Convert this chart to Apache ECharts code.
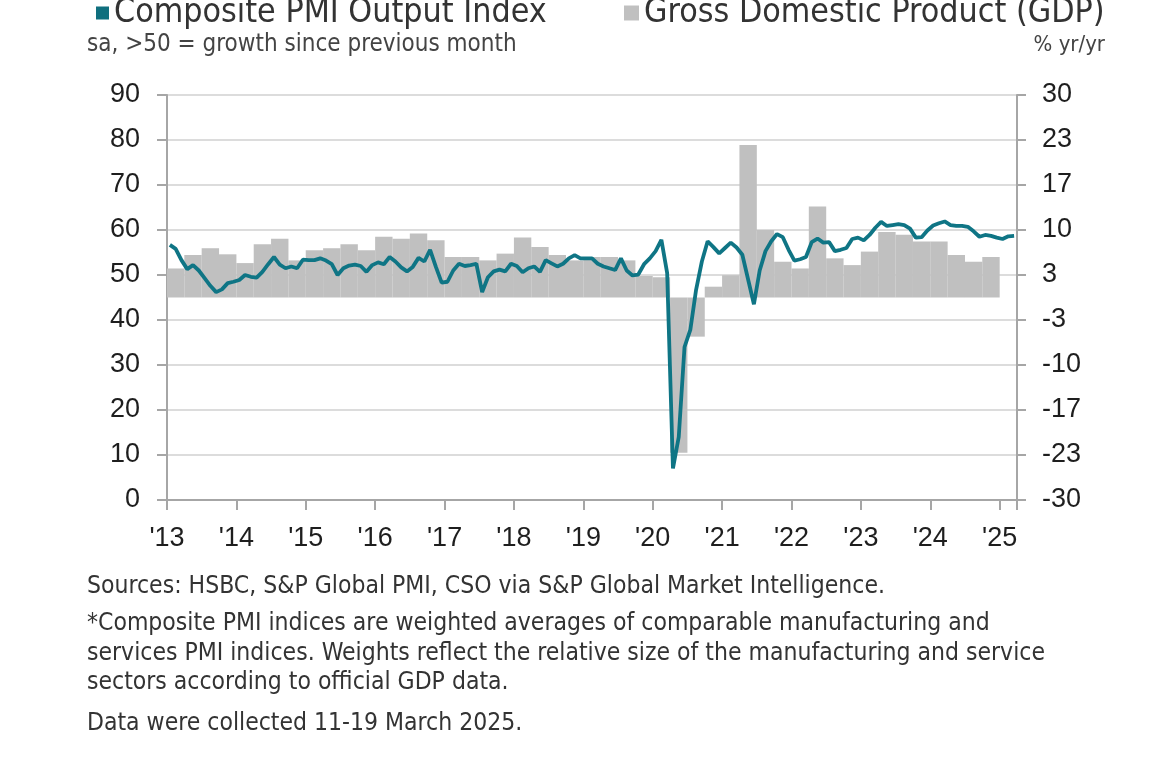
<!DOCTYPE html>
<html>
<head>
<meta charset="utf-8">
<script src="https://cdn.jsdelivr.net/npm/echarts@6/dist/echarts.min.js"></script>
<style>
  html, body { margin: 0; padding: 0; background: #fff; }
  #chart { width: 1155px; height: 770px; }
</style>
</head>
<body>
<div id="chart"></div>
<script>
// monthly composite PMI, Jan 2013 - Mar 2025
var startYear = 2013;
var pmi = [
  56.7, 55.8, 53.3, 51.3, 52.2, 51.0, 49.3, 47.6, 46.2, 46.8, 48.2, 48.5,
  48.9, 50.0, 49.6, 49.4, 50.7, 52.4, 54.0, 52.3, 51.5, 51.9, 51.5, 53.4,
  53.3, 53.3, 53.7, 53.2, 52.4, 50.0, 51.5, 52.1, 52.3, 52.0, 50.7, 52.2,
  52.8, 52.4, 54.0, 53.0, 51.7, 50.8, 51.8, 53.8, 53.0, 55.6, 51.8, 48.3,
  48.5, 51.0, 52.5, 52.0, 52.2, 52.5, 46.2, 49.5, 50.8, 51.2, 50.8, 52.5,
  52.0, 50.6, 51.5, 51.9, 50.7, 53.3, 52.6, 51.9, 52.5, 53.7, 54.4, 53.7,
  53.7, 53.7, 52.5, 51.9, 51.5, 51.1, 53.7, 51.0, 49.9, 50.1, 52.4, 53.7,
  55.3, 57.8, 50.4, 7.0, 14.0, 34.0, 37.8, 46.7, 53.0, 57.5, 56.2, 54.8,
  56.0, 57.2, 56.1, 54.5, 49.0, 43.5, 51.0, 55.3, 57.5, 59.1, 58.4, 55.6,
  53.2, 53.5, 54.0, 57.3, 58.1, 57.2, 57.3, 55.3, 55.6, 56.0, 58.0, 58.3,
  57.7, 58.9, 60.5, 61.8, 60.9, 61.1, 61.3, 61.1, 60.3, 58.3, 58.4, 59.9,
  61.0, 61.5, 61.9, 61.1, 60.9, 60.9, 60.7, 59.7, 58.5, 58.9, 58.7, 58.3,
  58.0, 58.6, 58.7
];
// quarterly GDP % yr/yr, Q1 2013 - Q4 2024
var gdp = [
  4.3, 6.3, 7.3, 6.4,
  5.1, 7.9, 8.7, 5.5,
  7.0, 7.3, 7.9, 7.0,
  9.0, 8.7, 9.5, 8.5,
  6.0, 6.0, 5.5, 6.5,
  8.9, 7.5, 6.3, 5.5,
  6.0, 6.0, 5.5, 3.2,
  3.0, -23.0, -5.8, 1.6,
  3.3, 22.6, 10.0, 5.3,
  4.3, 13.5, 5.8, 4.8,
  6.8, 9.7, 9.3, 8.3,
  8.3, 6.3, 5.3, 6.0
];
var pmiName = 'Composite PMI Output Index';
var gdpName = 'Gross Domestic Product (GDP)';
var textFont = "'DejaVu Sans Condensed', 'Roboto', sans-serif";
var axisFont = "'Liberation Sans', Arial, sans-serif";

var chartDom = document.getElementById('chart');
var myChart = echarts.init(chartDom);
var option;

// monthly points sit mid-month, quarterly bars mid-quarter
var pmiData = pmi.map(function (v, i) { return [startYear + (i + 0.5) / 12, v]; });
var gdpData = gdp.map(function (v, k) { return [startYear + k / 4 + 0.125, v]; });

option = {
  animation: false,
  backgroundColor: '#fff',
  grid: { left: 167, right: 138, top: 95, bottom: 270 },
  legend: [
    {
      data: [pmiName], left: 96, top: -4, padding: 0,
      icon: 'rect', itemWidth: 13, itemHeight: 13,
      textStyle: { fontSize: 33.7, color: '#333', fontFamily: textFont }
    },
    {
      data: [gdpName], left: 624, top: -4, padding: 0,
      icon: 'rect', itemWidth: 15, itemHeight: 15,
      textStyle: { fontSize: 33.7, color: '#333', fontFamily: textFont }
    }
  ],
  title: [
    { text: 'sa, >50 = growth since previous month', left: 87, top: 31, padding: 0,
      textStyle: { fontSize: 24, fontWeight: 'normal', color: '#444', lineHeight: 27, fontFamily: textFont } },
    { text: '% yr/yr', right: 50, top: 32, padding: 0,
      textStyle: { fontSize: 22, fontWeight: 'normal', color: '#444', lineHeight: 26, fontFamily: textFont } },
    { text: 'Sources: HSBC, S&P Global PMI, CSO via S&P Global Market Intelligence.', left: 87, top: 572, padding: 0,
      textStyle: { fontSize: 24.5, fontWeight: 'normal', color: '#333', lineHeight: 30, fontFamily: textFont } },
    { text: '*Composite PMI indices are weighted averages of comparable manufacturing and\nservices PMI indices. Weights reflect the relative size of the manufacturing and service\nsectors according to official GDP data.',
      left: 87, top: 609, padding: 0,
      textStyle: { fontSize: 24.5, fontWeight: 'normal', color: '#333', lineHeight: 29.5, fontFamily: textFont } },
    { text: 'Data were collected 11-19 March 2025.', left: 87, top: 709, padding: 0,
      textStyle: { fontSize: 24.5, fontWeight: 'normal', color: '#333', lineHeight: 30, fontFamily: textFont } }
  ],
  xAxis: {
    type: 'value',
    min: startYear,
    max: startYear + 12.25,
    interval: 1,
    axisLine: { lineStyle: { color: '#a6a6a6', width: 2 } },
    axisTick: { show: true, length: 10, lineStyle: { color: '#a6a6a6', width: 2 } },
    splitLine: { show: false },
    axisLabel: {
      fontSize: 27, color: '#1e1e1e', margin: 25, fontFamily: axisFont,
      formatter: function (v) {
        return Number.isInteger(v) ? "'" + String(v).slice(2) : '';
      }
    }
  },
  yAxis: [
    {
      type: 'value', min: 0, max: 90, interval: 10,
      axisLine: { show: true, lineStyle: { color: '#a6a6a6', width: 2 } },
      axisTick: { show: true, length: 10, lineStyle: { color: '#a6a6a6', width: 2 } },
      splitLine: { show: true, lineStyle: { color: '#dcdcdc', width: 2 } },
      axisLabel: { fontSize: 27, color: '#1e1e1e', margin: 27, fontFamily: axisFont }
    },
    {
      type: 'value', min: -30, max: 30, alignTicks: true,
      position: 'right',
      axisLine: { show: true, lineStyle: { color: '#a6a6a6', width: 2 } },
      axisTick: { show: true, length: 9, lineStyle: { color: '#a6a6a6', width: 2 } },
      splitLine: { show: false },
      axisLabel: { fontSize: 27, color: '#1e1e1e', margin: 25, fontFamily: axisFont,
        formatter: function (v) { return String(Math.round(v)); } }
    }
  ],
  series: [
    {
      name: gdpName,
      type: 'bar',
      yAxisIndex: 1,
      barWidth: 17.4,
      itemStyle: { color: '#c0c0c0' },
      data: gdpData,
      z: 1
    },
    {
      name: pmiName,
      type: 'line',
      yAxisIndex: 0,
      symbol: 'none',
      lineStyle: { color: '#0f7585', width: 3.8 },
      itemStyle: { color: '#0f6f7e' },
      data: pmiData,
      z: 3
    }
  ]
};

option && myChart.setOption(option);
</script>
</body>
</html>
